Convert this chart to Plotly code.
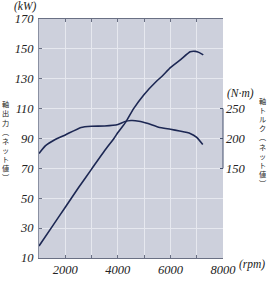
import plotly.graph_objects as go

# ---- data ----
rpm_power = [1000, 1500, 2000, 2500, 3000, 3500, 3850, 4000, 4300, 4600, 5000, 5450, 5700, 6000, 6400, 6750, 6950, 7100, 7250]
power_kw = [18, 31, 44, 57, 69.5, 82, 90, 94, 101, 110, 119.5, 128, 132, 137.5, 143, 148, 148.3, 147.5, 146]

rpm_torque = [1000, 1250, 1600, 2000, 2600, 3000, 3500, 4000, 4250, 4500, 4800, 5150, 5550, 6000, 6350, 6750, 7000, 7230]
torque_nm = [175, 188, 198, 206, 218.5, 220.5, 221, 223.5, 228, 230, 229, 225, 219, 215.5, 212.5, 208.5, 202, 190]

x_ticks = [1000, 2000, 3000, 4000, 5000, 6000, 7000, 8000]
x_ticktext = ["", "2000", "", "4000", "", "6000", "", "8000"]
y_ticks = [10, 30, 50, 70, 90, 110, 130, 150, 170]
y2_ticks = [150, 200, 250]

left_title = ["軸", "出", "力", "︵", "ネ", "ッ", "ト", "値", "︶"]
right_title = ["軸", "ト", "ル", "ク", "︵", "ネ", "ッ", "ト", "値", "︶"]

W, H = 270, 289
ML, MR, MT, MB = 39, 47, 19, 19
PW, PH = W - ML - MR, H - MT - MB


def px(x):
    return (x - ML) / PW


def py(y):
    return (H - MB - y) / PH


line_col = "#1c2753"
num_font = dict(family="Liberation Serif, DejaVu Serif, serif", size=12.5, color="#222222", style="italic")

fig = go.Figure()
fig.add_trace(go.Scatter(x=rpm_power, y=power_kw, mode="lines",
                         line=dict(color=line_col, width=1.6, shape="spline", smoothing=0.5),
                         showlegend=False, hoverinfo="skip"))
fig.add_trace(go.Scatter(x=rpm_torque, y=torque_nm, mode="lines", yaxis="y2",
                         line=dict(color=line_col, width=1.6, shape="spline", smoothing=0.5),
                         showlegend=False, hoverinfo="skip"))

fig.update_layout(
    width=W, height=H,
    margin=dict(l=ML, r=MR, t=MT, b=MB),
    paper_bgcolor="white",
    plot_bgcolor="#cdd0dc",
    xaxis=dict(range=[1000, 8000], tickvals=x_ticks, ticktext=x_ticktext,
               showgrid=True, gridcolor="#e6e8ef", gridwidth=1,
               ticks="inside", ticklen=3, tickcolor="#6a7084",
               showline=True, linecolor="#6a7084", linewidth=1, mirror="ticks",
               tickfont=num_font, zeroline=False, fixedrange=True),
    yaxis=dict(range=[10, 170], tickvals=y_ticks,
               showgrid=True, gridcolor="#e6e8ef", gridwidth=1,
               ticks="inside", ticklen=3, tickcolor="#6a7084",
               showline=True, linecolor="#8a90a2", linewidth=1,
               tickfont=num_font, ticklabelstandoff=2, zeroline=False, fixedrange=True),
    yaxis2=dict(range=[0, 400], tickvals=y2_ticks, overlaying="y", side="right",
                showgrid=False, showline=False, zeroline=False,
                ticks="inside", ticklen=3, tickcolor="#44506e",
                tickfont=num_font, ticklabelstandoff=2, fixedrange=True),
)

fig.add_shape(type="line", xref="paper", x0=1, x1=1, yref="y2", y0=150, y1=250,
              line=dict(color="#44506e", width=1))

unit_font = dict(family="Liberation Serif, DejaVu Serif, serif", size=11.5, color="#222222", style="italic")
for txt, x, y in [("(kW)", 25, 6), ("(N·m)", 240, 97.5), ("(rpm)", 251.5, 277)]:
    fig.add_annotation(text=txt, x=px(x), y=py(y), xref="paper", yref="paper",
                       showarrow=False, font=unit_font, xanchor="center", yanchor="middle")

cjk_font = dict(family="Noto Sans CJK JP", size=7.2, color="#222222")
for i, ch in enumerate(left_title):
    fig.add_annotation(text=ch, x=px(5.5), y=py(108.5 + i * 9.6), xref="paper", yref="paper",
                       showarrow=False, font=cjk_font, xanchor="center", yanchor="middle")
for i, ch in enumerate(right_title):
    fig.add_annotation(text=ch, x=px(262), y=py(105 + i * 9.6), xref="paper", yref="paper",
                       showarrow=False, font=cjk_font, xanchor="center", yanchor="middle")

fig.write_html("out.html")
